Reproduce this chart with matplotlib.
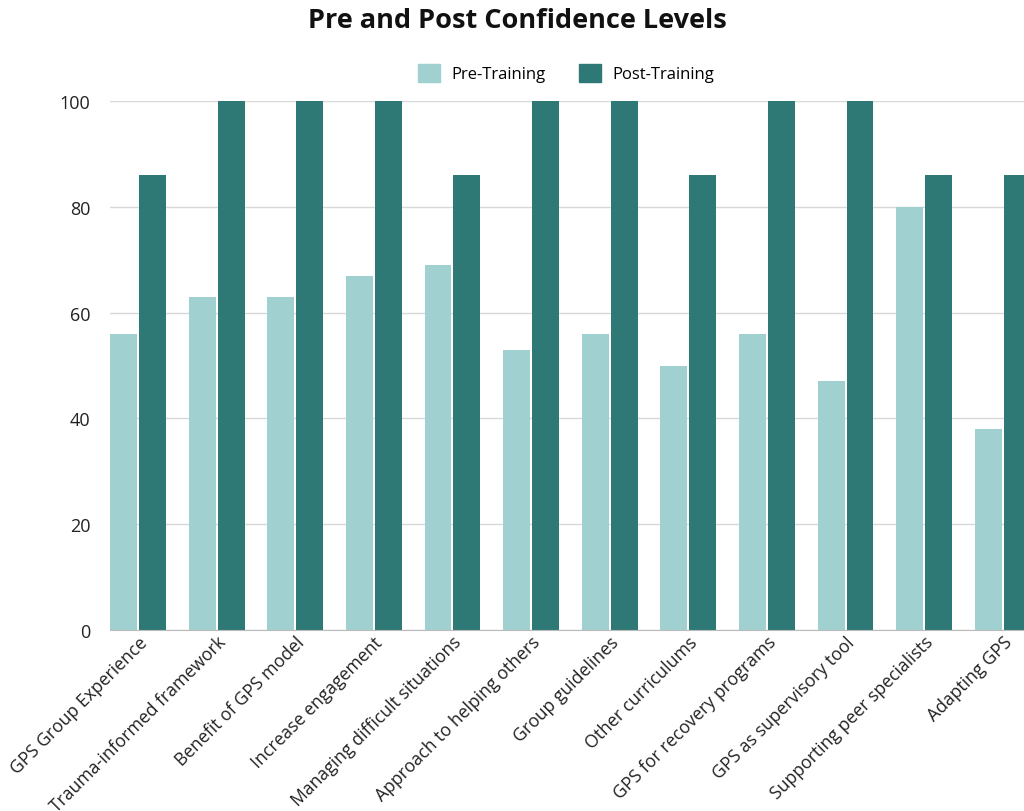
import numpy as np
import matplotlib.pyplot as plt
from matplotlib.patches import Patch

categories = ["GPS Group Experience", "Trauma-informed framework", "Benefit of GPS model",
              "Increase engagement", "Managing difficult situations", "Approach to helping others",
              "Group guidelines", "Other curriculums", "GPS for recovery programs",
              "GPS as supervisory tool", "Supporting peer specialists", "Adapting GPS"]
pre_training = [56, 63, 63, 67, 69, 53, 56, 50, 56, 47, 80, 38]
post_training = [86, 100, 100, 100, 86, 100, 100, 86, 100, 100, 86, 86]
y_ticks = [0, 20, 40, 60, 80, 100]

pre_color = "#a1d0d0"
post_color = "#2e7975"

plt.rcParams["font.family"] = ["Open Sans", "DejaVu Sans"]

fig = plt.figure(figsize=(10.24, 8.12), dpi=100)
# axes runs off the right edge, like the original screenshot
ax = fig.add_axes([110/1024, 1 - 631/812, (1024 - 110)/1024, (631 - 102)/812])

x = np.arange(len(categories))
ax.bar(x - 0.184, pre_training, width=0.343, color=pre_color, zorder=3)
ax.bar(x + 0.184, post_training, width=0.343, color=post_color, zorder=3)

ax.set_xlim(-0.356, 11.27)
ax.set_ylim(0, 100)
ax.set_yticks(y_ticks)
ax.set_yticklabels([str(v) for v in y_ticks], fontsize=13, color="#222222")
ax.yaxis.grid(True, color="#d8d8d8", linewidth=1, zorder=0)
ax.tick_params(axis="y", length=0, pad=14)
ax.tick_params(axis="x", length=0, pad=2)

ax.set_xticks(x)
ax.set_xticklabels(categories, rotation=45, ha="right", va="top",
                   rotation_mode="anchor", fontsize=12.7, color="#222222")

for s in ["top", "right", "left"]:
    ax.spines[s].set_visible(False)
ax.spines["bottom"].set_color("#bbbbbb")
ax.spines["bottom"].set_zorder(4)

fig.text(0.505, 0.99, "Pre and Post Confidence Levels", ha="center", va="top",
         fontsize=19.5, fontweight="bold", color="#111111")

handles = [Patch(color=pre_color, label="Pre-Training"),
           Patch(color=post_color, label="Post-Training")]
fig.legend(handles=handles, loc="center", bbox_to_anchor=(566/1024, 1 - 74/812),
           ncol=2, frameon=False, fontsize=12, handlelength=1.3, handleheight=1.3,
           columnspacing=2.0, handletextpad=0.7)

fig.savefig("out.png", dpi=100)
